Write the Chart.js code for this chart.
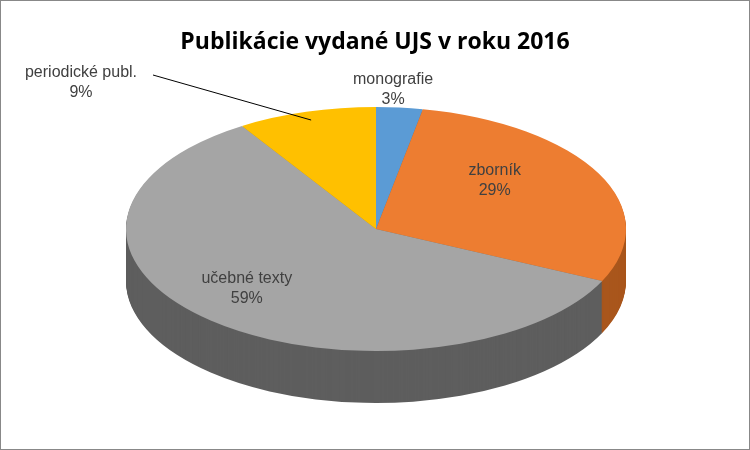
<!DOCTYPE html>
<html><head><meta charset="utf-8">
<script src="https://cdn.jsdelivr.net/npm/chart.js@4/dist/chart.umd.min.js"></script>
<style>html,body{margin:0;padding:0;background:#fff}#w{width:748px;height:448px;border:1px solid #888;position:relative}</style>
</head><body><div id="w"><canvas id="c" width="748" height="448"></canvas></div>
<script>
const categories = ["monografie","zborník","učebné texty","periodické publ."];
const values = [3, 29, 59, 9];
const colors = ["#5B9BD5","#ED7D31","#A5A5A5","#FFC000"];
const sideColors = ["#3F76A8","#A9561C","#5E5E5E","#C79500"];
const E = {cx:375, cy:228, rx:250, ry:122, th:52};
function setT(ctx, el, dy){
  ctx.setTransform(1,0,0,1,0,0);
  ctx.translate(E.cx, E.cy+dy);
  ctx.scale(E.rx/el.outerRadius, E.ry/el.outerRadius);
  ctx.translate(-el.x, -el.y);
}
const pie3d = {
  id:'pie3d',
  beforeDatasetsDraw(chart){
    const ctx = chart.ctx, meta = chart.getDatasetMeta(0);
    ctx.save();
    for(let k=E.th;k>=1;k--){
      meta.data.forEach((el,i)=>{
        const o=el.options, bg=o.backgroundColor;
        ctx.save(); setT(ctx,el,k);
        o.backgroundColor = sideColors[i];
        el.draw(ctx);
        o.backgroundColor = bg;
        ctx.restore();
      });
    }
    ctx.restore();
    ctx.save();
    setT(ctx, meta.data[0], 0);
  },
  afterDatasetsDraw(chart){
    const ctx = chart.ctx; ctx.restore();
    const meta = chart.getDatasetMeta(0);
    ctx.save(); ctx.setTransform(1,0,0,1,0,0);
    ctx.font = '16px "Liberation Sans", Arial, sans-serif';
    ctx.fillStyle = '#404040'; ctx.textAlign='center'; ctx.textBaseline='middle';
    const total = values.reduce((a,b)=>a+b,0);
    meta.data.forEach((el,i)=>{
      const mid=(el.startAngle+el.endAngle)/2;
      let f=0.6, lx, ly;
      const px = a=>E.cx+Math.cos(a)*E.rx*f, py=a=>E.cy+Math.sin(a)*E.ry*f;
      if(i===0){ lx=E.cx+Math.cos(mid)*E.rx*0.3+10; ly=E.cy+Math.sin(mid)*E.ry*1.15; }
      else if(i===3){
        lx=80; ly=82;
        ctx.strokeStyle='#000'; ctx.lineWidth=1; ctx.beginPath();
        ctx.moveTo(152,74); ctx.lineTo(E.cx+Math.cos(mid)*E.rx*0.93, E.cy+Math.sin(mid)*E.ry*0.93); ctx.stroke();
      } else { lx=px(mid); ly=py(mid); if(i===1){lx+=-15;ly+=-15;} if(i===2){lx+=-30;ly+=5;} }
      ctx.fillText(categories[i], lx, ly-10);
      ctx.fillText(Math.round(values[i]/total*100)+'%', lx, ly+10);
    });
    ctx.restore();
  }
};
new Chart(document.getElementById('c'),{
  type:'pie',
  data:{labels:categories,datasets:[{data:values,backgroundColor:colors,borderWidth:0}]},
  options:{responsive:false,animation:false,
    layout:{padding:{top:10,bottom:10}},
    plugins:{legend:{display:false},tooltip:{enabled:false},
      title:{display:true,text:'Publikácie vydané UJS v roku 2016',color:'#000',
        font:{family:'"Open Sans", "Liberation Sans", sans-serif',size:23,weight:'bold'},padding:{top:18,bottom:10}}}},
  plugins:[pie3d]
});
</script></body></html>
